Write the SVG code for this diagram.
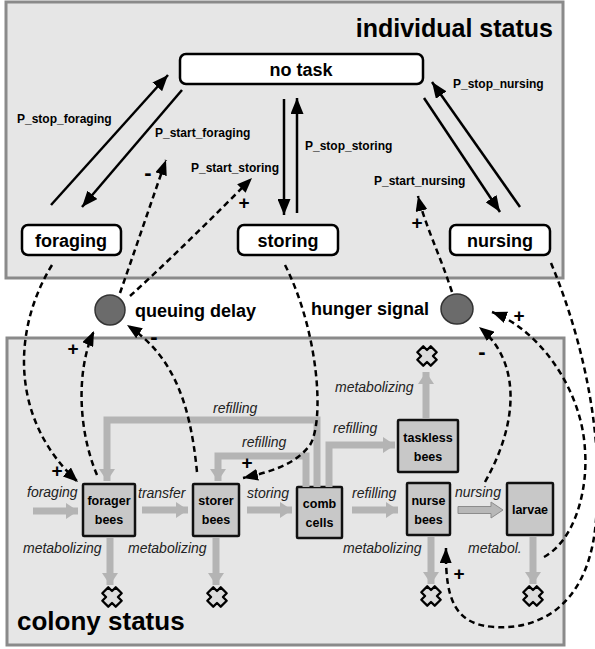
<svg xmlns="http://www.w3.org/2000/svg" width="595" height="649" viewBox="0 0 595 649">
  <style>
    .panel { fill: #e6e6e6; stroke: #8a8a8a; stroke-width: 3; }
    .title { font-family: "Liberation Sans", Arial, sans-serif; font-weight: bold; fill: #000; }
    .state { fill: #fff; stroke: #000; stroke-width: 2.5; }
    .stateText { font-family: "Liberation Sans", Arial, sans-serif; font-weight: bold; font-size: 18px; text-anchor: middle; }
    .pool { fill: #c8c8c8; stroke: #111; stroke-width: 2.5; }
    .poolText { font-family: "Liberation Sans", Arial, sans-serif; font-weight: bold; font-size: 12.5px; text-anchor: middle; }
    .prob { font-family: "Liberation Sans", Arial, sans-serif; font-weight: bold; font-size: 12px; }
    .flowLabel { font-family: "Liberation Sans", Arial, sans-serif; font-style: italic; font-size: 14px; fill: #222; }
    .sign { font-family: "Liberation Sans", Arial, sans-serif; font-weight: bold; font-size: 19px; text-anchor: middle; }
    .minus { font-family: "Liberation Sans", Arial, sans-serif; font-weight: bold; font-size: 22px; text-anchor: middle; }
    .solid { fill: none; stroke: #000; stroke-width: 2.5; marker-end: url(#headBlack); }
    .dashed { fill: none; stroke: #000; stroke-width: 2.5; stroke-dasharray: 6 4; marker-end: url(#headDash); }
    .flow { fill: none; stroke: #b4b4b4; stroke-width: 7; stroke-linejoin: miter; marker-end: url(#headGray); }
    .signal { fill: #6b6b6b; stroke: #333; stroke-width: 1.5; }
    .sink { fill: #dcdcdc; stroke: #000; stroke-width: 2.3; stroke-linejoin: round; }
  </style>
  <defs>
    <marker id="headBlack" markerUnits="userSpaceOnUse" markerWidth="16" markerHeight="13" viewBox="0 0 16 13" refX="16" refY="6.5" orient="auto">
      <path d="M0,0 L16,6.5 L0,13 z" fill="#000"/>
    </marker>
    <marker id="headDash" markerUnits="userSpaceOnUse" markerWidth="15" markerHeight="12" viewBox="0 0 15 12" refX="15" refY="6" orient="auto">
      <path d="M0,0 L15,6 L0,12 z" fill="#000"/>
    </marker>
    <marker id="headGray" markerUnits="userSpaceOnUse" markerWidth="12" markerHeight="16" viewBox="0 0 12 16" refX="12" refY="8" orient="auto">
      <path d="M0,0 L12,8 L0,16 z" fill="#b4b4b4"/>
    </marker>
    <!-- consumption sink: rounded cross -->
    <path id="cross" class="sink" d="M-4.2,-9.5 L4.2,-9.5 L4.2,-4.2 L9.5,-4.2 L9.5,4.2 L4.2,4.2 L4.2,9.5 L-4.2,9.5 L-4.2,4.2 L-9.5,4.2 L-9.5,-4.2 L-4.2,-4.2 z" transform="rotate(45)"/>
  </defs>

  <!-- panels -->
  <rect class="panel" x="6" y="2" width="557" height="276"/>
  <rect class="panel" x="7" y="338" width="557" height="307"/>
  <text class="title" x="553" y="37" font-size="25" text-anchor="end">individual status</text>
  <text class="title" x="17" y="630" font-size="26">colony status</text>

  <!-- individual states -->
  <g id="no-task">
    <rect class="state" x="180" y="54" width="243" height="30" rx="6"/>
    <text class="stateText" x="301" y="76">no task</text>
  </g>
  <g id="foraging">
    <rect class="state" x="22" y="225" width="99" height="30" rx="6"/>
    <text class="stateText" x="71" y="247">foraging</text>
  </g>
  <g id="storing">
    <rect class="state" x="238" y="225" width="100" height="30" rx="6"/>
    <text class="stateText" x="288" y="247">storing</text>
  </g>
  <g id="nursing">
    <rect class="state" x="450" y="225" width="100" height="30" rx="6"/>
    <text class="stateText" x="500" y="247">nursing</text>
  </g>

  <!-- signals -->
  <g id="queuing-delay">
    <circle class="signal" cx="110" cy="310" r="15"/>
    <text class="title" x="135" y="317" font-size="18">queuing delay</text>
  </g>
  <g id="hunger-signal">
    <ellipse class="signal" cx="457" cy="309" rx="16" ry="15"/>
    <text class="title" x="311" y="315" font-size="18">hunger signal</text>
  </g>

  <!-- colony pools -->
  <g id="forager-bees">
    <rect class="pool" x="83" y="484" width="52" height="52" rx="1"/>
    <text class="poolText" x="109" y="505">forager</text>
    <text class="poolText" x="109" y="524">bees</text>
  </g>
  <g id="storer-bees">
    <rect class="pool" x="193" y="484" width="46" height="52" rx="1"/>
    <text class="poolText" x="216" y="505">storer</text>
    <text class="poolText" x="216" y="524">bees</text>
  </g>
  <g id="comb-cells">
    <rect class="pool" x="297" y="487" width="45" height="51" rx="1"/>
    <text class="poolText" x="319.5" y="508">comb</text>
    <text class="poolText" x="319.5" y="527">cells</text>
  </g>
  <g id="taskless-bees">
    <rect class="pool" x="398" y="420" width="60" height="52" rx="1"/>
    <text class="poolText" x="428" y="442">taskless</text>
    <text class="poolText" x="428" y="461">bees</text>
  </g>
  <g id="nurse-bees">
    <rect class="pool" x="407" y="483" width="43" height="52" rx="1"/>
    <text class="poolText" x="428.5" y="505">nurse</text>
    <text class="poolText" x="428.5" y="524">bees</text>
  </g>
  <g id="larvae">
    <rect class="pool" x="507" y="483" width="46" height="52" rx="1"/>
    <text class="poolText" x="530" y="514">larvae</text>
  </g>

  <!-- sinks -->
  <g id="sinks">
    <use href="#cross" x="112" y="597"/>
    <use href="#cross" x="217" y="597"/>
    <use href="#cross" x="431" y="596"/>
    <use href="#cross" x="533" y="596"/>
    <use href="#cross" x="427" y="356"/>
  </g>

  <g id="connectors">
    <!-- task transitions -->
    <line class="solid" x1="51" y1="205" x2="168" y2="75"/>
    <line class="solid" x1="182" y1="90" x2="82" y2="207"/>
    <line class="solid" x1="284" y1="99" x2="284" y2="215"/>
    <line class="solid" x1="297" y1="213" x2="297" y2="98"/>
    <line class="solid" x1="424" y1="98" x2="500" y2="212"/>
    <line class="solid" x1="520" y1="207" x2="432" y2="82"/>

    <!-- material flows -->
    <line class="flow" x1="33" y1="511" x2="78" y2="511"/>
    <line class="flow" x1="142" y1="510" x2="188" y2="510"/>
    <line class="flow" x1="247" y1="510" x2="292" y2="510"/>
    <line class="flow" x1="352" y1="510" x2="398" y2="510"/>
    <path d="M458,506.5 L491,506.5 L491,502 L503,510 L491,518 L491,513.5 L458,513.5 z" fill="#b8b8b8" stroke="#8c8c8c" stroke-width="1"/>
    <polyline class="flow" points="306,487 306,456 218,456 218,481"/>
    <polyline class="flow" points="317,487 317,420 107,420 107,481"/>
    <polyline class="flow" points="329,487 329,445 395,445"/>
    <line class="flow" x1="110" y1="538" x2="110" y2="585"/>
    <line class="flow" x1="216" y1="538" x2="216" y2="585"/>
    <line class="flow" x1="431" y1="537" x2="431" y2="584"/>
    <line class="flow" x1="533" y1="537" x2="533" y2="584"/>
    <line class="flow" x1="426" y1="418" x2="426" y2="372"/>

    <!-- feedback links -->
    <path class="dashed" d="M52,265 C12,330 10,420 78,482"/>
    <path class="dashed" d="M120,293 C135,250 152,200 166,160"/>
    <path class="dashed" d="M130,296 C170,260 215,215 252,178"/>
    <path class="dashed" d="M97,475 C78,430 76,370 94,331"/>
    <path class="dashed" d="M197,472 C190,400 172,355 127,325"/>
    <path class="dashed" d="M285,265 C318,330 325,420 310,445 C295,465 270,472 243,478"/>
    <path class="dashed" d="M452,292 C440,255 425,225 418,196"/>
    <path class="dashed" d="M485,482 C520,420 520,360 479,327"/>
    <path class="dashed" d="M544,557 C575,540 588,490 585,450 C582,390 540,330 492,312"/>
    <path class="dashed" d="M551,263 C575,320 605,420 596,520 C590,600 545,630 495,627 C455,625 445,600 446,548"/>
  </g>

  <!-- transition rates -->
  <g id="rate-labels">
    <text class="prob" x="17" y="123">P_stop_foraging</text>
    <text class="prob" x="155" y="137">P_start_foraging</text>
    <text class="prob" x="191" y="172">P_start_storing</text>
    <text class="prob" x="305" y="150">P_stop_storing</text>
    <text class="prob" x="374" y="185">P_start_nursing</text>
    <text class="prob" x="453" y="88">P_stop_nursing</text>
  </g>

  <!-- flow labels -->
  <g id="flow-labels">
    <text class="flowLabel" x="27" y="497">foraging</text>
    <text class="flowLabel" x="138" y="498">transfer</text>
    <text class="flowLabel" x="247" y="498">storing</text>
    <text class="flowLabel" x="352" y="498">refilling</text>
    <text class="flowLabel" x="455" y="497">nursing</text>
    <text class="flowLabel" x="213" y="413">refilling</text>
    <text class="flowLabel" x="242" y="447">refilling</text>
    <text class="flowLabel" x="333" y="433">refilling</text>
    <text class="flowLabel" x="23" y="553">metabolizing</text>
    <text class="flowLabel" x="128" y="553">metabolizing</text>
    <text class="flowLabel" x="343" y="553">metabolizing</text>
    <text class="flowLabel" x="468" y="553">metabol.</text>
    <text class="flowLabel" x="335" y="392">metabolizing</text>
  </g>

  <!-- feedback signs -->
  <g id="signs">
    <text class="sign" x="57" y="477">+</text>
    <text class="sign" x="73" y="355">+</text>
    <text class="minus" x="154" y="344">-</text>
    <text class="minus" x="148" y="180">-</text>
    <text class="sign" x="244" y="209">+</text>
    <text class="sign" x="247" y="469">+</text>
    <text class="sign" x="417" y="229">+</text>
    <text class="minus" x="482" y="359">-</text>
    <text class="sign" x="519" y="322">+</text>
    <text class="sign" x="459" y="580">+</text>
  </g>
</svg>
